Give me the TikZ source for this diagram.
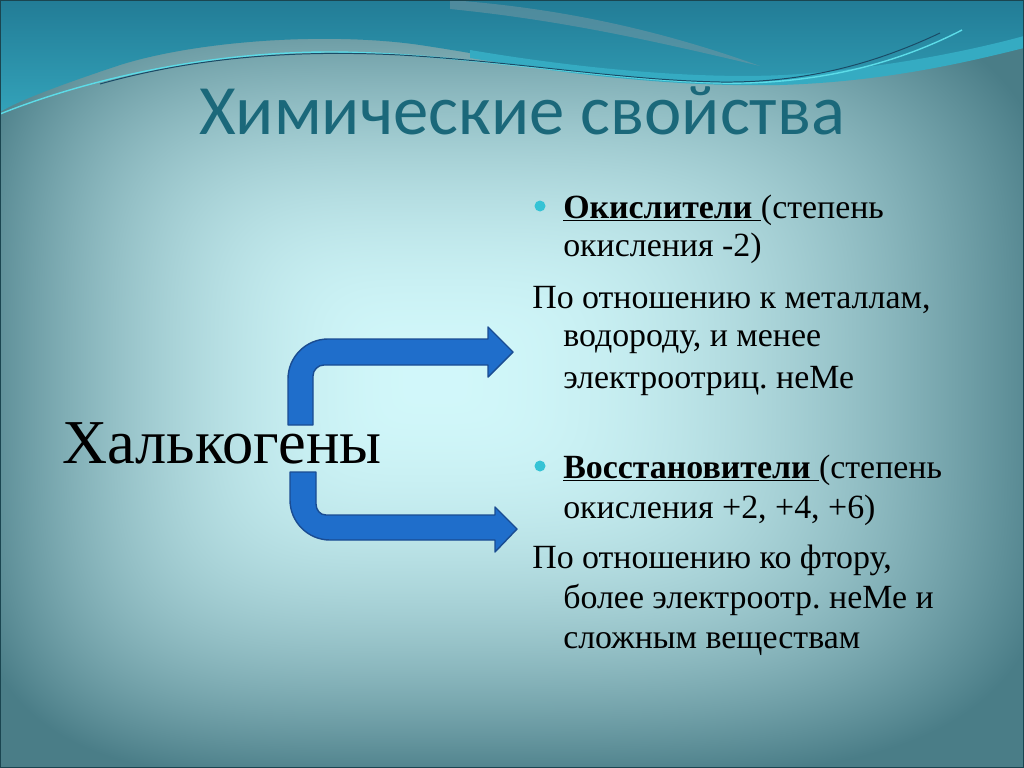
\documentclass[tikz,border=0pt]{standalone}
\usepackage{fontspec}
\setmainfont{Liberation Serif}
\newfontfamily\titlefont{Carlito}
\usetikzlibrary{positioning}
\frenchspacing

\definecolor{titleteal}{HTML}{1B687A}
\definecolor{arrowblue}{HTML}{1F6ECB}
\definecolor{arrowedge}{HTML}{1A4C92}
\definecolor{dotcyan}{HTML}{35C3D5}
\definecolor{bandtop}{HTML}{227C96}
\definecolor{bandlow}{HTML}{33A2B9}
\definecolor{bandcyan}{HTML}{35ABC2}
\definecolor{stripe}{HTML}{7496A2}
\definecolor{linecyan}{HTML}{5CDCE8}
\definecolor{linedark}{HTML}{1A4B66}
\definecolor{framedark}{HTML}{1A4550}

% slide background: light spot left of centre, darker towards the edges
\pgfdeclarefunctionalshading{slidebg}{\pgfpointorigin}{\pgfpoint{725.67bp}{544.25bp}}{}{
  1.41112 mul exch 1.41112 mul exch
  388 sub 400 div dup mul dup mul
  exch 430 sub dup 0 lt {470 div} {630 div} ifelse dup mul dup mul add
  sqrt sqrt dup 1 gt {pop 1} if
  dup mul
  dup -0.53 mul 0.82 add exch
  dup -0.48 mul 0.97 add exch
  -0.45 mul 0.98 add
}

\begin{document}
\begin{tikzpicture}[
  x=0.025cm, y=-0.025cm,
  title/.style={font=\titlefont\fontsize{50.3}{58}\selectfont,text=titleteal,inner sep=0pt,anchor=base},
  big/.style={font=\fontsize{44.4}{52}\selectfont,inner sep=0pt,anchor=base west},
  body/.style={font=\fontsize{24.1}{29}\selectfont,inner sep=0pt,anchor=base west},
  dot/.style={circle,fill=dotcyan,inner sep=0pt,minimum size=11*0.025cm},
  arr/.style={fill=arrowblue,draw=arrowedge,line width=1pt,line join=round}
]
  \useasboundingbox (0,0) rectangle (1024,768);
  \node[inner sep=0pt,outer sep=0pt,anchor=north west] (bg) at (0,0) {\pgfuseshading{slidebg}};

  % waves along the top
  \shade[top color=bandtop,bottom color=bandlow]
    (0,0) -- (1024,0) -- (1024,40)
    .. controls (940,64) and (820,84) .. (700,82)
    .. controls (600,80) and (520,60) .. (420,45)
    .. controls (330,32) and (200,40) .. (120,65)
    .. controls (60,85) and (20,100) .. (0,112) -- cycle;
  \fill[bandcyan]
    (470,50) .. controls (600,72) and (720,80) .. (800,74)
    .. controls (900,66) and (980,48) .. (1024,36) -- (1024,48)
    .. controls (960,64) and (880,82) .. (780,85)
    .. controls (680,87) and (580,76) .. (470,58) -- cycle;
  \fill[stripe,opacity=.55]
    (450,0) .. controls (560,8) and (660,30) .. (760,66)
    .. controls (650,40) and (560,20) .. (450,9) -- cycle;
  \draw[linecyan,line width=1pt]
    (0,114) .. controls (80,82) and (200,52) .. (330,52)
    .. controls (450,52) and (600,80) .. (720,83)
    .. controls (820,85) and (900,62) .. (962,30);
  \draw[linedark,line width=.7pt]
    (100,84) .. controls (200,56) and (300,50) .. (400,55)
    .. controls (520,62) and (620,80) .. (720,82)
    .. controls (800,83) and (870,66) .. (940,33);
  \draw[framedark,line width=1.5pt] (0,0) rectangle (1024,768);

  \node[title] (title) at (522,135) {Химические свойства};
  \node[big] (chalc) at (62,463) {Халькогены};

  % bent arrows
  \draw[arr] (288,425) -- (288,379) .. controls (288,357) and (306,339) .. (328,339)
    -- (488,339) -- (488,327) -- (513,352) -- (488,377) -- (488,365) -- (324,365)
    .. controls (318,365) and (313,370) .. (313,376) -- (313,425) -- cycle;
  \draw[arr] (290,472) -- (290,500) .. controls (290,522) and (308,540) .. (330,540)
    -- (495,540) -- (495,552) -- (517,529) -- (495,507) -- (495,515) -- (326,515)
    .. controls (320,515) and (316,510) .. (316,504) -- (316,472) -- cycle;

  % first group
  \node[dot] (b1) at (540,206) {};
  \node[body] (ox1) at (563,218) {\underline{\textbf{Окислители}\ }(степень};
  \node[body] (ox2) at (563,256) {окисления -2)};
  \node[body] (ox3) at (532,308) {По отношению к металлам,};
  \node[body] (ox4) at (563,346) {водороду, и менее};
  \node[body] (ox5) at (563,388) {электроотриц. неМе};

  % second group
  \node[dot] (b2) at (540,466) {};
  \node[body] (red1) at (563,478) {\underline{\textbf{Восстановители}\ }(степень};
  \node[body] (red2) at (563,518) {окисления +2, +4, +6)};
  \node[body] (red3) at (532,568) {По отношению ко фтору,};
  \node[body] (red4) at (563,608) {более электроотр. неМе и};
  \node[body] (red5) at (563,648) {сложным веществам};
\end{tikzpicture}
\end{document}
